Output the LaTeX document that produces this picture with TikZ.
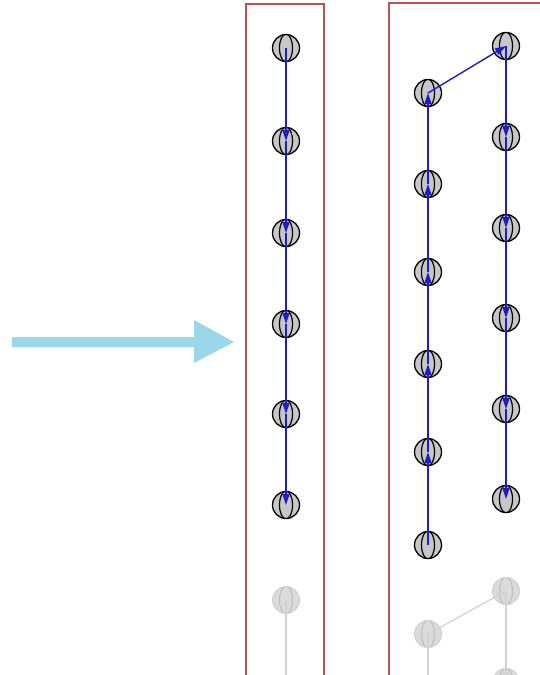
\documentclass[tikz,border=0pt]{standalone}
\usetikzlibrary{arrows.meta}
\definecolor{frameRed}{HTML}{C0504D}
\definecolor{linkBlue}{HTML}{1C1CC8}
\definecolor{bigArrow}{HTML}{9AD7E8}
\definecolor{ghost}{HTML}{D2D2D2}
\tikzset{
  globe/.style={circle, minimum size=27pt, inner sep=0pt, draw=black, line width=1.3pt,
    fill=black!22,
    path picture={\draw[line width=1.2pt] (path picture bounding box.center) ellipse (6.5pt and 14pt);}},
  ghostglobe/.style={circle, minimum size=27pt, inner sep=0pt, draw=ghost, line width=1.1pt,
    fill=ghost!80,
    path picture={\draw[ghost!70!black!60, line width=1pt] (path picture bounding box.center) ellipse (6.5pt and 14pt);}},
  link/.style={draw=linkBlue, line width=1.4pt, -{Triangle[length=11pt,width=7pt]}},
  ghostlink/.style={draw=ghost, line width=1.2pt, -{Triangle[length=9pt,width=6pt]}},
  frame/.style={draw=frameRed, line width=1.4pt},
}
\begin{document}
\begin{tikzpicture}[x=1pt,y=-1pt]
\useasboundingbox (0,0) rectangle (540,675);
\clip (0,0) rectangle (540,675);
\fill[white] (0,0) rectangle (540,675);

% frames
\draw[frame] (246,690) -- (246,4) -- (324,4) -- (324,690);
\draw[frame] (389,690) -- (389,3) -- (550,3);

% wide pointer arrow
\fill[bigArrow] (12,337) -- (194,337) -- (194,320) -- (234,342) -- (194,363) -- (194,347) -- (12,347) -- cycle;

% single chain
\foreach \i/\y in {1/48,2/141,3/233,4/324,5/414,6/505}
  \node[globe] (s\i) at (286,\y) {};
\node[ghostglobe] (s7) at (286,600) {};
\coordinate (s8) at (286,690);

% two-column chain
\foreach \i/\y in {1/545,2/452,3/364,4/272,5/184,6/93}
  \node[globe] (a\i) at (428,\y) {};
\foreach \i/\y in {1/46,2/137,3/228,4/318,5/409,6/499}
  \node[globe] (b\i) at (506,\y) {};
\node[ghostglobe] (g1) at (428,634) {};
\node[ghostglobe] (g2) at (506,591) {};
\node[ghostglobe] (g3) at (506,682) {};
\coordinate (g0) at (428,690);

% faded links
\draw[draw=ghost, line width=1.2pt] (s7.center) -- (s8);
\draw[draw=ghost, line width=1.2pt] (g1.center) -- (g0);
\draw[ghostlink] (g1.center) -- (g2.center);
\draw[ghostlink] (g2.center) -- (g3.center);

% links
\foreach \a/\b in {1/2,2/3,3/4,4/5,5/6}
  \draw[link] (s\a.center) -- (s\b.center);
\foreach \a/\b in {1/2,2/3,3/4,4/5,5/6}
  \draw[link] (a\a.center) -- (a\b.center);
\draw[link] (a6.center) -- (b1.center);
\foreach \a/\b in {1/2,2/3,3/4,4/5,5/6}
  \draw[link] (b\a.center) -- (b\b.center);
\end{tikzpicture}
\end{document}
